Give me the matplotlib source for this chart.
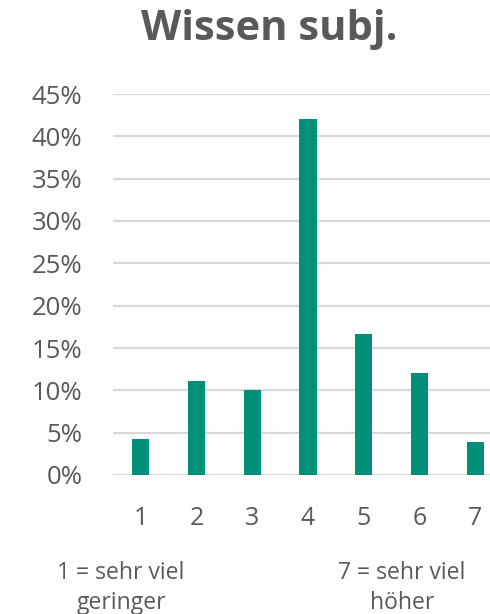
import matplotlib
matplotlib.use("Agg")
import matplotlib.pyplot as plt
from matplotlib.ticker import FuncFormatter, MultipleLocator

categories = ["1", "2", "3", "4", "5", "6", "7"]
values = [0.042, 0.111, 0.100, 0.420, 0.167, 0.120, 0.039]
title = "Wissen subj."
note_left = ["1 = sehr viel", "geringer"]
note_right = ["7 = sehr viel", "höher"]

plt.rcParams['font.family'] = ['Open Sans', 'DejaVu Sans']
text_color = "#595959"
bar_color = "#00907A"
grid_color = "#D9D9D9"

fig = plt.figure(figsize=(4.9, 6.14), dpi=100)
ax = fig.add_axes([113/490, (614-475)/614, 390/490, (475-94)/614])

x = list(range(len(categories)))
ax.bar(x, values, width=0.31, color=bar_color, zorder=3)
ax.set_xlim(-0.5, len(categories) - 0.5)
ax.set_ylim(0, 0.45)
ax.yaxis.set_major_locator(MultipleLocator(0.05))
ax.yaxis.set_major_formatter(FuncFormatter(lambda v, p: f"{v*100:.0f}%"))
ax.set_xticks(x)
ax.set_xticklabels(categories)
ax.grid(axis='y', color=grid_color, linewidth=1.6, zorder=0)
for s in ax.spines.values():
    s.set_visible(False)
ax.tick_params(axis='both', length=0, labelcolor=text_color)
ax.tick_params(axis='x', pad=22, labelsize=18)
ax.tick_params(axis='y', pad=22, labelsize=18.5)

fig.text(0.55, 1 - 30/614, title, ha='center', va='center', fontsize=30,
         fontweight='bold', color=text_color)
for xc, lines in ((121, note_left), (402, note_right)):
    fig.text(xc/490, 1 - 579/614, lines[0], ha='center', va='baseline',
             fontsize=16.5, color=text_color)
    fig.text(xc/490, 1 - 609/614, lines[1], ha='center', va='baseline',
             fontsize=16.5, color=text_color)

fig.savefig("out.png", dpi=100)
